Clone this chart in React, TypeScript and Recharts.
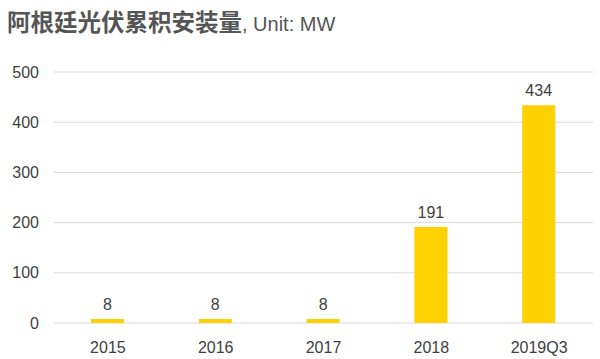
import React from "react";
import { BarChart, Bar, XAxis, YAxis, CartesianGrid, LabelList } from "recharts";

const categories = ["2015", "2016", "2017", "2018", "2019Q3"];
const capacityMW = [8, 8, 8, 191, 434];
const yTicks = [0, 100, 200, 300, 400, 500];

const data = categories.map((c, i) => ({ name: c, value: capacityMW[i] }));

const FONT = '"Liberation Sans", Arial, "Noto Sans CJK SC", sans-serif';

export default function App() {
  return (
    <div style={{ position: "absolute", left: 0, top: 0, width: 600, height: 359, background: "#fff", fontFamily: FONT }}>
      <div
        style={{
          position: "absolute",
          left: 7,
          top: 6,
          whiteSpace: "nowrap",
          color: "#555555",
          lineHeight: "30px",
        }}
      >
        <span style={{ fontSize: 23.5, fontWeight: "bold", fontFamily: '"Noto Sans CJK SC", sans-serif' }}>阿根廷光伏累积安装量</span>
        <span style={{ fontSize: 20, fontFamily: FONT }}>, Unit: MW</span>
      </div>
      <BarChart
        width={600}
        height={359}
        data={data}
        margin={{ top: 72, right: 7, bottom: 0, left: 0 }}
        style={{ fontFamily: FONT }}
      >
        <CartesianGrid horizontal vertical={false} stroke="#d9d9d9" strokeWidth={1} />
        <XAxis
          dataKey="name"
          axisLine={false}
          tickLine={false}
          height={36}
          tickSize={6}
          tickMargin={13}
          tick={{ fill: "#404040", fontSize: 16 }}
          interval={0}
        />
        <YAxis
          type="number"
          domain={[0, 500]}
          ticks={yTicks}
          axisLine={false}
          tickLine={false}
          width={54}
          tickSize={6}
          tickMargin={9}
          tick={{ fill: "#404040", fontSize: 16 }}
        />
        <Bar dataKey="value" fill="#FFD100" barSize={33} isAnimationActive={false}>
          <LabelList dataKey="value" position="top" offset={9} fill="#404040" fontSize={16} />
        </Bar>
      </BarChart>
    </div>
  );
}
